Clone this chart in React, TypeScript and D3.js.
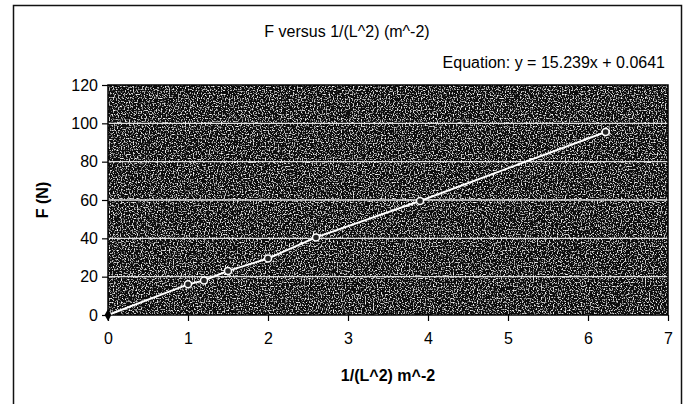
import React, { useEffect, useRef } from 'react';
import * as d3 from 'd3';

// measured points (1/L^2 in m^-2, F in N)
const xValues = [0, 1.0, 1.2, 1.5, 2.0, 2.6, 3.9, 6.22];
const fValues = [0, 16, 18, 23, 29.5, 40.5, 59.5, 95.5];
const xTicks = [0, 1, 2, 3, 4, 5, 6, 7];
const yTicks = [0, 20, 40, 60, 80, 100, 120];
const titleText = 'F versus 1/(L^2) (m^-2)';
const equationText = 'Equation: y = 15.239x + 0.0641';
const xLabel = '1/(L^2) m^-2';
const yLabel = 'F (N)';

const App = () => {
  const svgRef = useRef<SVGSVGElement>(null);

  useEffect(() => {
    const svg = d3.select(svgRef.current);
    svg.selectAll('*').remove();

    const W = 683;
    const H = 404;
    const margin = { top: 85, right: 15, bottom: 89, left: 108 };
    const width = W - margin.left - margin.right;
    const height = H - margin.top - margin.bottom;
    const font = '"Liberation Sans", Arial, sans-serif';

    svg.attr('width', W).attr('height', H).style('font-family', font);

    // chart area border
    svg.append('rect')
      .attr('x', 13.5)
      .attr('y', 5.5)
      .attr('width', 668)
      .attr('height', 420)
      .attr('fill', '#fff')
      .attr('stroke', '#111')
      .attr('stroke-width', 1.5);

    // speckled background like the scanned fill
    const defs = svg.append('defs');
    const filter = defs.append('filter')
      .attr('id', 'speckle')
      .attr('x', 0).attr('y', 0).attr('width', 1).attr('height', 1);
    filter.append('feTurbulence')
      .attr('type', 'fractalNoise')
      .attr('baseFrequency', 0.75)
      .attr('numOctaves', 1)
      .attr('seed', 3)
      .attr('result', 'noise');
    filter.append('feColorMatrix')
      .attr('in', 'noise')
      .attr('type', 'matrix')
      .attr('values', '0 0 0 0 1  0 0 0 0 1  0 0 0 0 1  4 0 0 0 -2.1')
      .attr('result', 'specks');
    filter.append('feFlood').attr('flood-color', '#101010').attr('result', 'bg');
    filter.append('feMerge').call(m => {
      m.append('feMergeNode').attr('in', 'bg');
      m.append('feMergeNode').attr('in', 'specks');
    });

    const x = d3.scaleLinear().domain([0, 7]).range([0, width]);
    const y = d3.scaleLinear().domain([0, 120]).range([height, 0]);

    const g = svg.append('g')
      .attr('transform', `translate(${margin.left},${margin.top})`);

    g.append('rect')
      .attr('width', width)
      .attr('height', height)
      .attr('fill', '#222')
      .attr('filter', 'url(#speckle)');

    // gridlines
    g.selectAll('.grid')
      .data(yTicks.filter(d => d > 0 && d < 120))
      .enter()
      .append('line')
      .attr('x1', 0)
      .attr('x2', width)
      .attr('y1', d => y(d))
      .attr('y2', d => y(d))
      .attr('stroke', '#e0e0e0')
      .attr('stroke-width', 1.3);

    // plot frame
    g.append('rect')
      .attr('width', width)
      .attr('height', height)
      .attr('fill', 'none')
      .attr('stroke', '#000')
      .attr('stroke-width', 1.5);

    // series line
    const pts = xValues.map((v, i) => [v, fValues[i]] as [number, number]);
    g.append('path')
      .datum(pts)
      .attr('fill', 'none')
      .attr('stroke', '#fff')
      .attr('stroke-width', 2)
      .attr('d', d3.line<[number, number]>().x(d => x(d[0])).y(d => y(d[1])));

    g.selectAll('.pt')
      .data(pts.slice(1))
      .enter()
      .append('circle')
      .attr('cx', d => x(d[0]))
      .attr('cy', d => y(d[1]))
      .attr('r', 3.5)
      .attr('fill', '#222')
      .attr('stroke', '#fff')
      .attr('stroke-width', 1.5);

    // origin marker
    g.append('path')
      .attr('d', d3.symbol().type(d3.symbolDiamond).size(40))
      .attr('transform', `translate(${x(0)},${y(0)})`)
      .attr('fill', '#000');

    // axes
    const xAxis = g.append('g')
      .attr('transform', `translate(0,${height})`)
      .call(d3.axisBottom(x).tickValues(xTicks).tickSize(6).tickPadding(12).tickFormat(d3.format('d')));
    const yAxis = g.append('g')
      .call(d3.axisLeft(y).tickValues(yTicks).tickSize(6).tickPadding(4).tickFormat(d3.format('d')));

    [xAxis, yAxis].forEach(a => {
      a.select('.domain').remove();
      a.selectAll('.tick line').attr('stroke', '#000').attr('stroke-width', 1.2);
      a.selectAll('.tick text')
        .attr('fill', '#000')
        .style('font-family', font)
        .style('font-size', '16px');
    });

    // titles
    svg.append('text')
      .attr('x', 347)
      .attr('y', 37)
      .attr('text-anchor', 'middle')
      .style('font-size', '16px')
      .text(titleText);

    svg.append('text')
      .attr('x', 665)
      .attr('y', 68)
      .attr('text-anchor', 'end')
      .style('font-size', '16px')
      .text(equationText);

    svg.append('text')
      .attr('x', margin.left + width / 2)
      .attr('y', 381)
      .attr('text-anchor', 'middle')
      .style('font-size', '16px')
      .style('font-weight', 'bold')
      .text(xLabel);

    svg.append('text')
      .attr('transform', `translate(48,${margin.top + height / 2}) rotate(-90)`)
      .attr('text-anchor', 'middle')
      .style('font-size', '16px')
      .style('font-weight', 'bold')
      .text(yLabel);
  }, []);

  return (
    <div style={{ position: 'absolute', left: 0, top: 0 }}>
      <svg ref={svgRef}></svg>
    </div>
  );
};

export default App;
